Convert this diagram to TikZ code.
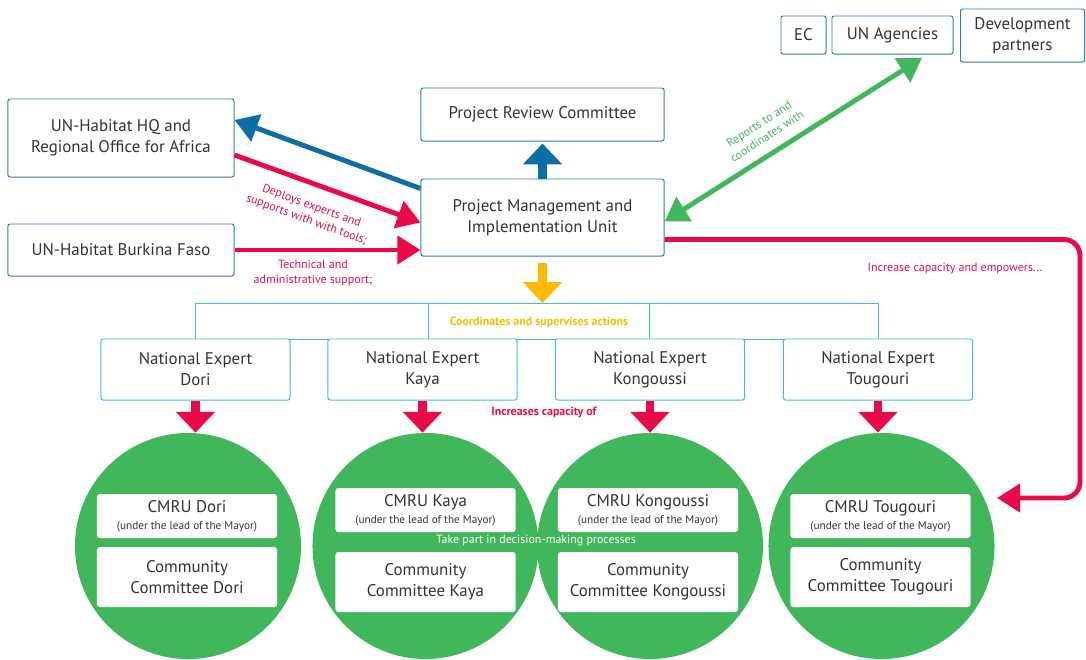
\documentclass[tikz,border=0pt]{standalone}
\usepackage{fontspec}
\setmainfont{PT Sans}
\usetikzlibrary{arrows.meta,calc}

\definecolor{boxblue}{HTML}{2A7FB0}
\definecolor{lineblue}{HTML}{3DBDE6}
\definecolor{arrowblue}{HTML}{0C6EA2}
\definecolor{unred}{HTML}{EA0A47}
\definecolor{ungreen}{HTML}{41B75C}
\definecolor{unyellow}{HTML}{FDBB00}
\definecolor{textgray}{HTML}{333333}

\newcommand{\boxfont}{\fontsize{12}{15}\selectfont}
\newcommand{\lblfont}{\fontsize{8.5}{10.5}\selectfont}
\newcommand{\subfont}{\fontsize{8}{9}\selectfont}

\tikzset{
  topbox/.style={draw=boxblue, line width=0.7pt, rounded corners=1.5pt, align=center, text=textgray, font=\boxfont, inner sep=0pt},
  expertbox/.style={draw=lineblue, fill=white, line width=0.7pt, rounded corners=1.5pt, align=center, text=textgray, font=\boxfont, minimum width=4.725cm, minimum height=1.525cm, inner sep=0pt},
  district/.style={circle, fill=ungreen, minimum size=5.65cm, inner sep=0pt},
  cmrubox/.style={fill=white, rounded corners=2pt, align=center, text=textgray, font=\boxfont, minimum width=4.5cm, minimum height=1.1cm, inner sep=0pt},
  commbox/.style={cmrubox, minimum height=1.5cm},
  thinarrow/.style={line width=3.5pt, -{Triangle[length=0.58cm,width=0.7cm]}},
  fatarrow/.style={line width=6pt, -{Triangle[length=0.52cm,width=0.95cm]}},
  lbl/.style={font=\lblfont, align=center, inner sep=0pt}
}

\begin{document}
\begin{tikzpicture}[x=0.025cm, y=-0.025cm]
    \useasboundingbox (0,0) rectangle (1086,659);

    % top row
    \node[topbox, minimum width=5.65cm, minimum height=1.95cm] at (121,138) (hq) {UN-Habitat HQ and\\ Regional Office for Africa};
    \node[topbox, minimum width=5.65cm, minimum height=1.3cm] at (121,250) (bf) {UN-Habitat Burkina Faso};
    \node[topbox, minimum width=6.075cm, minimum height=1.325cm] at (542.5,114.5) (review) {Project Review Committee};
    \node[topbox, minimum width=6.075cm, minimum height=1.925cm] at (542.5,217.5) (pmiu) {Project Management and\\ Implementation Unit};
    \node[topbox, minimum width=1.125cm, minimum height=0.95cm] at (803.5,35) (ec) {EC};
    \node[topbox, minimum width=3.025cm, minimum height=0.95cm] at (892.5,35) (agencies) {UN Agencies};
    \node[topbox, minimum width=3.1cm, minimum height=1.325cm] at (1022.5,35.5) (devpart) {Development\\ partners};

    % districts
    \node[district] at (188,546) (cDori) {};
    \node[district] at (425.5,546) (cKaya) {};
    \node[district] at (650,546) (cKong) {};
    \node[district] at (881.5,546) (cToug) {};

    \draw[lineblue, line width=0.7pt] (195.5,339) -- (195.5,303) -| (878,339);
    \draw[lineblue, line width=0.7pt] (428,303) -- (428,339);
    \draw[lineblue, line width=0.7pt] (649,303) -- (649,339);
    \draw[lineblue, line width=0.7pt] (195.5,339) -- (878,339);

    \node[expertbox] at (195.5,369.5) (eDori) {National Expert\\ Dori};
    \node[expertbox] at (422.5,369.5) (eKaya) {National Expert\\ Kaya};
    \node[expertbox] at (650,369.5) (eKong) {National Expert\\ Kongoussi};
    \node[expertbox] at (878,369.5) (eToug) {National Expert\\ Tougouri};

    \node[cmrubox] at (187,516) (mDori) {CMRU Dori\\[-3pt] {\subfont (under the lead of the Mayor)}};
    \node[commbox] at (187,577) (kDori) {Community\\ Committee Dori};
    \node[cmrubox] at (425.5,510) (mKaya) {CMRU Kaya\\[-3pt] {\subfont (under the lead of the Mayor)}};
    \node[commbox] at (425.5,582) (kKaya) {Community\\ Committee Kaya};
    \node[cmrubox] at (648,510) (mKong) {CMRU Kongoussi\\[-3pt] {\subfont (under the lead of the Mayor)}};
    \node[commbox] at (648,582) (kKong) {Community\\ Committee Kongoussi};
    \node[cmrubox] at (880.5,516) (mToug) {CMRU Tougouri\\[-3pt] {\subfont (under the lead of the Mayor)}};
    \node[commbox] at (880.5,577) (kToug) {Community\\ Committee Tougouri};

    % arrows
    \draw[thinarrow, arrowblue] ($(pmiu.west)+(0,-29)$) -- ($(hq.east)+(0,-18)$);
    \draw[thinarrow, unred] ($(hq.east)+(0,17)$) -- ($(pmiu.west)+(0,5)$);
    \draw[thinarrow, unred] (bf.east |- 0,250) -- (pmiu.west |- 0,250);
    \draw[fatarrow, arrowblue] (pmiu.north) -- ([yshift=-0.05cm]review.south);
    \coordinate (brktop) at (542.5,303);
    \draw[fatarrow, unyellow, shorten <=0.15cm] (pmiu.south) -- (brktop);
    \draw[thinarrow, ungreen, {Triangle[length=0.58cm,width=0.7cm]}-{Triangle[length=0.58cm,width=0.7cm]}] ([yshift=-0.1cm]pmiu.east) -- (922,58);
    \coordinate (loopend) at (997,498);
    \draw[thinarrow, unred, rounded corners=0.4cm] ($(pmiu.east)+(0,22)$) -- (1080,239.5) -- (1080,498) -- (loopend);
    \foreach \e/\c in {eDori/cDori, eKaya/cKaya, eKong/cKong, eToug/cToug}
        \draw[fatarrow, unred] (\e.south) -- (\e.south |- \c.north);

    % labels
    \node[lbl, text=unred, rotate=-20] at (309,213) (lDeploy) {Deploys experts and\\ supports with with tools;};
    \node[lbl, text=unred] at (313,273) (lTech) {Technical and\\ administrative support;};
    \node[lbl, text=ungreen, rotate=33] at (763,130) (lReport) {Reports to and\\ coordinates with};
    \node[lbl, text=unred] at (955,268) (lEmpower) {Increase capacity and empowers...};
    \node[lbl, text=unyellow, font=\lblfont\bfseries] at (539,322) (lCoord) {Coordinates and supervises actions};
    \node[lbl, text=unred, font=\lblfont\bfseries] at (544,412) (lIncr) {Increases capacity of};
    \node[lbl, text=white] at (536,541) (lTake) {Take part in decision-making processes};
\end{tikzpicture}
\end{document}
